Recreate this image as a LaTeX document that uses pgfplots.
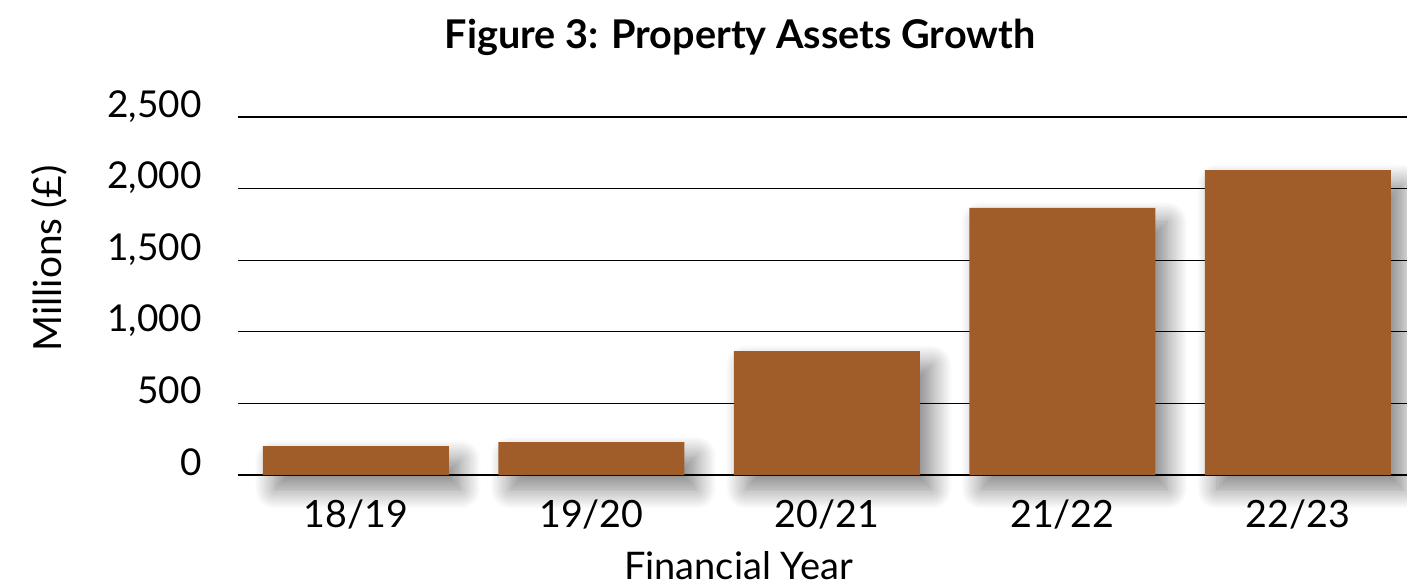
\documentclass[border=0pt]{standalone}
\usepackage{pgfplots}
\pgfplotsset{compat=1.18}
\usepackage{fontspec}
\setmainfont{Lato}
\usetikzlibrary{shadows.blur}
\definecolor{barbrown}{RGB}{160,93,41}
\begin{document}
\begin{tikzpicture}
\begin{axis}[
  scale only axis,
  clip=false,
  width=584.5pt, height=179pt,
  xmin=-0.5, xmax=4.463,
  ymin=0, ymax=2500,
  ytick={0,500,1000,1500,2000,2500},
  xtick={0,1,2,3,4},
  xticklabels={18/19,19/20,20/21,21/22,22/23},
  ymajorgrids,
  grid style={black, line width=0.6pt},
  axis line style={draw=none},
  major tick length=0pt,
  /pgf/number format/assume math mode=true,
  /pgf/number format/1000 sep={,},
  yticklabel style={font=\fontsize{18.5}{23}\selectfont, anchor=base east, inner sep=0pt, xshift=-18pt},
  xticklabel style={font=\fontsize{18.8}{22}\selectfont, anchor=base, inner sep=0pt, yshift=-26pt},
  title={\bfseries Figure 3: Property Assets Growth},
  title style={font=\fontsize{19.8}{24}\selectfont, at={(axis description cs:0.4294,1.1927)}, anchor=base, inner sep=0pt, yshift=-6pt},
  xlabel={Financial Year},
  xlabel style={font=\fontsize{19}{23}\selectfont, at={(axis description cs:0.4282,-0.292)}, anchor=base, inner sep=0pt},
  ylabel={Millions (£)},
  ylabel style={font=\fontsize{19.4}{23}\selectfont, at={(axis description cs:-0.1506,0.6047)}, anchor=base, inner sep=0pt},
  ybar, bar width=93pt, bar shift=0pt,
]
\addplot[draw=none, fill=none,
  blur shadow={shadow xshift=6pt, shadow yshift=-7pt, shadow blur radius=10pt, shadow blur steps=16, shadow opacity=50}]
  coordinates {(0,202) (1,229) (2,865) (3,1865) (4,2129)};
\addplot[draw=none, fill=barbrown]
  coordinates {(0,202) (1,229) (2,865) (3,1865) (4,2129)};
\end{axis}
\pgfresetboundingbox
\useasboundingbox (-119pt,-55pt) rectangle (584.5pt,237.5pt);
\end{tikzpicture}
\end{document}
